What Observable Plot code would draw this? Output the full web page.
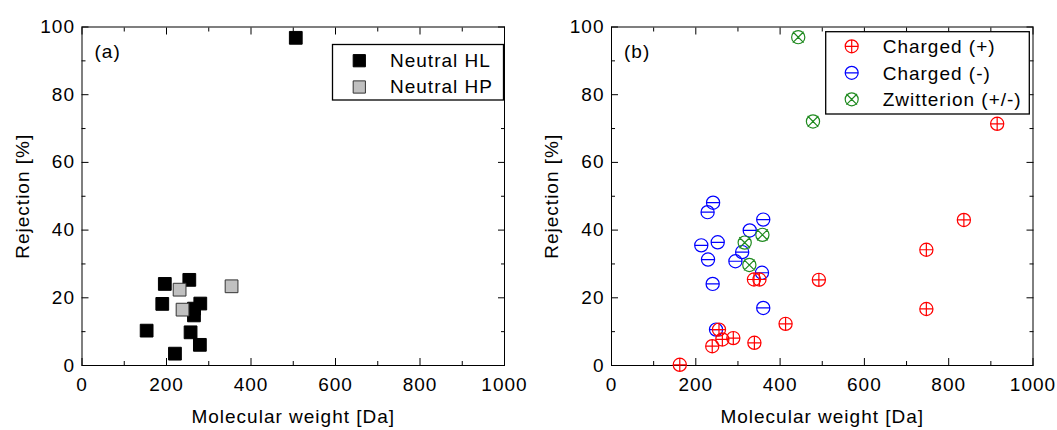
<!DOCTYPE html>
<html><head><meta charset="utf-8">
<script src="https://cdn.jsdelivr.net/npm/d3@7"></script>
<script src="https://cdn.jsdelivr.net/npm/@observablehq/plot@0.6"></script>
<style>
body{margin:0;background:#fff;}
#wrap{position:relative;width:1057px;height:430px;display:flex;font-family:"Liberation Sans",Arial,sans-serif;}
#wrap svg{overflow:visible;}
#overlay{position:absolute;left:0;top:0;pointer-events:none;}
</style></head><body><div id="wrap"></div>
<script>
// ---------- data ----------
const xMajorTicks = [0, 200, 400, 600, 800, 1000];
const xMinorTicks = [100, 300, 500, 700, 900];
const yMajorTicks = [0, 20, 40, 60, 80, 100];
const yMinorTicks = [10, 30, 50, 70, 90];

// panel (a)
const neutralHL_mw  = [196, 254, 190, 280, 265, 265, 153, 257, 279, 220, 506];
const neutralHL_rej = [24.1, 25.3, 18.2, 18.3, 16.8, 14.8, 10.3, 9.8, 6.1, 3.5, 96.8];
const neutralHP_mw  = [231, 238, 354];
const neutralHP_rej = [22.4, 16.5, 23.4];

// panel (b)
const chargedNeg_mw  = [241, 228, 360, 328, 213, 252, 310, 229, 294, 357, 240, 360, 248];
const chargedNeg_rej = [48.1, 45.3, 43.1, 39.9, 35.5, 36.4, 33.5, 31.3, 30.8, 27.4, 24.1, 17.0, 10.6];
const chargedPos_mw  = [338, 351, 413, 255, 263, 289, 339, 239, 162, 492, 747, 747, 836, 915];
const chargedPos_rej = [25.4, 25.4, 12.3, 10.6, 7.7, 8.1, 6.7, 5.7, 0.2, 25.3, 16.7, 34.2, 43.0, 71.4];
const zwitter_mw  = [316, 358, 327, 443, 478];
const zwitter_rej = [36.3, 38.6, 29.7, 97.0, 72.1];

const legendA = ["Neutral HL", "Neutral HP"];
const legendB = ["Charged (+)", "Charged (-)", "Zwitterion (+/-)"];

// ---------- symbols ----------
const squareSym = {draw(ctx, size){ const s = Math.sqrt(size)/2; ctx.rect(-s, -s, 2*s, 2*s); }};
const circlePlus = {draw(ctx, size){ const r = Math.sqrt(size/Math.PI);
  ctx.moveTo(r,0); ctx.arc(0,0,r,0,2*Math.PI);
  ctx.moveTo(-r,0); ctx.lineTo(r,0); ctx.moveTo(0,-r); ctx.lineTo(0,r); }};
const circleMinus = {draw(ctx, size){ const r = Math.sqrt(size/Math.PI);
  ctx.moveTo(r,0); ctx.arc(0,0,r,0,2*Math.PI);
  ctx.moveTo(-r,0); ctx.lineTo(r,0); }};
const circleTimes = {draw(ctx, size){ const r = Math.sqrt(size/Math.PI); const d = r*0.82;
  ctx.moveTo(r,0); ctx.arc(0,0,r,0,2*Math.PI);
  ctx.moveTo(-d,-d); ctx.lineTo(d,d); ctx.moveTo(-d,d); ctx.lineTo(d,-d); }};

const RED = "#ff0000", BLUE = "#0000ff", GREEN = "#1f8a1f";
const SQ_R = 7.2, CIRC_R = 6.6;

const zip = (xs, ys) => xs.map((x, i) => ({mw: x, rej: ys[i]}));

const fontFamily = '"Liberation Sans", Arial, sans-serif';

function axisMarks() {
  const blank = () => "";
  return [
    Plot.axisX({ticks: xMajorTicks, tickSize: -7, tickPadding: 19, tickFormat: d => String(d),
      label: "Molecular weight [Da]", labelAnchor: "center", labelArrow: "none", labelOffset: 57}),
    Plot.axisX({ticks: xMinorTicks, tickSize: -4, tickFormat: blank, label: null}),
    Plot.axisX({anchor: "top", ticks: xMajorTicks, tickSize: -7, tickFormat: blank, label: null}),
    Plot.axisX({anchor: "top", ticks: xMinorTicks, tickSize: -4, tickFormat: blank, label: null}),
    Plot.axisY({ticks: yMajorTicks, tickSize: -7, tickPadding: 14, tickFormat: d => String(d),
      label: "Rejection [%]", labelAnchor: "center", labelArrow: "none", labelOffset: 67}),
    Plot.axisY({ticks: yMinorTicks, tickSize: -4, tickFormat: blank, label: null}),
    Plot.axisY({anchor: "right", ticks: yMajorTicks, tickSize: -7, tickFormat: blank, label: null}),
    Plot.axisY({anchor: "right", ticks: yMinorTicks, tickSize: -4, tickFormat: blank, label: null}),
    Plot.frame({stroke: "#000", strokeWidth: 1})
  ];
}

function panel(width, marginLeft, marginRight, tag, marks) {
  return Plot.plot({
    width, height: 430, marginLeft, marginRight, marginTop: 26.5, marginBottom: 65,
    x: {domain: [0, 1000]},
    y: {domain: [0, 100]},
    style: {fontFamily, fontSize: "19px", letterSpacing: "1px", color: "#000", background: "#fff", overflow: "visible"},
    marks: [
      ...axisMarks(),
      Plot.text([tag], {frameAnchor: "top-left", dx: 12.5, dy: 24.5, textAnchor: "start", lineAnchor: "middle", fontSize: 19}),
      ...marks
    ]
  });
}

const plotA = panel(528, 81.5, 24, "(a)", [
  Plot.dot(zip(neutralHL_mw, neutralHL_rej), {x: "mw", y: "rej", symbol: squareSym, r: SQ_R, fill: "#000", stroke: "#000", strokeWidth: 1}),
  Plot.dot(zip(neutralHP_mw, neutralHP_rej), {x: "mw", y: "rej", symbol: squareSym, r: SQ_R, fill: "#c0c0c0", stroke: "#333", strokeWidth: 1})
]);

const plotB = panel(529, 83, 24.5, "(b)", [
  Plot.dot(zip(chargedNeg_mw, chargedNeg_rej), {x: "mw", y: "rej", symbol: circleMinus, r: CIRC_R, fill: "none", stroke: BLUE, strokeWidth: 1.2}),
  Plot.dot(zip(chargedPos_mw, chargedPos_rej), {x: "mw", y: "rej", symbol: circlePlus, r: CIRC_R, fill: "none", stroke: RED, strokeWidth: 1.2}),
  Plot.dot(zip(zwitter_mw, zwitter_rej), {x: "mw", y: "rej", symbol: circleTimes, r: CIRC_R, fill: "none", stroke: GREEN, strokeWidth: 1.2})
]);

const wrap = document.getElementById("wrap");
wrap.appendChild(plotA);
wrap.appendChild(plotB);

// ---------- legends (overlay) ----------
const svg = d3.select(wrap).append("svg").attr("id", "overlay").attr("width", 1057).attr("height", 430)
  .style("font-family", fontFamily).style("font-size", "19px").style("letter-spacing", "1px");

function legend(box, entries) {
  const g = svg.append("g");
  g.append("rect").attr("x", box.x).attr("y", box.y).attr("width", box.w).attr("height", box.h)
    .attr("fill", "#fff").attr("stroke", "#000").attr("stroke-width", 1.3);
  entries.forEach((e, i) => {
    const cy = box.y0 + i * box.dy;
    g.append("path").attr("transform", `translate(${box.sx},${cy})`)
      .attr("d", d3.symbol(e.sym, Math.PI * e.r * e.r)())
      .attr("fill", e.fill).attr("stroke", e.stroke).attr("stroke-width", e.sw);
    g.append("text").attr("x", box.tx).attr("y", cy + box.base).text(e.label).attr("fill", "#000");
  });
}

legend({x: 332.5, y: 44.5, w: 171, h: 55.5, sx: 359.3, y0: 60.7, dy: 26.3, tx: 390, base: 6.4}, [
  {label: legendA[0], sym: squareSym, r: 6.9, fill: "#000", stroke: "#000", sw: 1},
  {label: legendA[1], sym: squareSym, r: 6.9, fill: "#c0c0c0", stroke: "#333", sw: 1}
]);
legend({x: 825.7, y: 31.7, w: 203.6, h: 82.3, sx: 851.7, y0: 46.3, dy: 26.5, tx: 882.7, base: 7}, [
  {label: legendB[0], sym: circlePlus, r: 6.5, fill: "none", stroke: RED, sw: 1.2},
  {label: legendB[1], sym: circleMinus, r: 6.5, fill: "none", stroke: BLUE, sw: 1.2},
  {label: legendB[2], sym: circleTimes, r: 6.5, fill: "none", stroke: GREEN, sw: 1.2}
]);
</script>
</body></html>
